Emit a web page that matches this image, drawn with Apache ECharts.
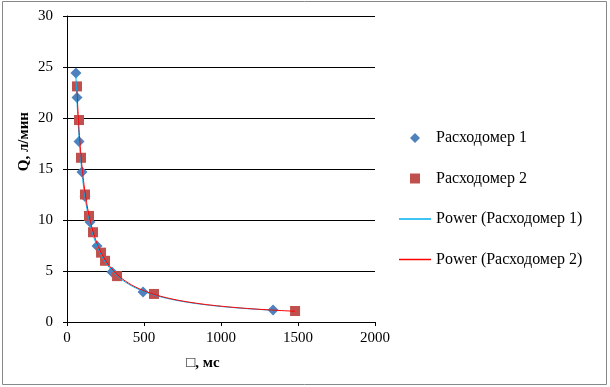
<!DOCTYPE html>
<html><head><meta charset="utf-8">
<script src="https://cdn.jsdelivr.net/npm/echarts@6/dist/echarts.min.js"></script>
<style>html,body{margin:0;padding:0;background:#fff}#c{width:610px;height:387px}</style>
</head><body><div id="c"></div>
<script>
// Data
const flow1X = [58, 65, 78, 97, 117, 149, 195, 292, 494, 1338];
const flow1Y = [24.4, 22.0, 17.7, 14.7, 12.3, 9.8, 7.45, 4.9, 2.95, 1.18];
const flow2X = [65, 78, 91, 117, 143, 169, 221, 247, 325, 565, 1481];
const flow2Y = [23.1, 19.8, 16.1, 12.5, 10.4, 8.8, 6.8, 6.0, 4.5, 2.75, 1.08];
const seriesNames = ['Расходомер 1', 'Расходомер 2', 'Power (Расходомер 1)', 'Power (Расходомер 2)'];
const xTicks = [0, 500, 1000, 1500, 2000];
const yTicks = [0, 5, 10, 15, 20, 25, 30];

// Power trendline (least squares in log-log space, as the spreadsheet does)
function powerFit(xs, ys) {
  const n = xs.length;
  let sx = 0, sy = 0, sxx = 0, sxy = 0;
  for (let i = 0; i < n; i++) {
    const lx = Math.log(xs[i]), ly = Math.log(ys[i]);
    sx += lx; sy += ly; sxx += lx * lx; sxy += lx * ly;
  }
  const b = (n * sxy - sx * sy) / (n * sxx - sx * sx);
  const a = Math.exp((sy - b * sx) / n);
  const xmin = Math.min(...xs), xmax = Math.max(...xs);
  const pts = [];
  const steps = 200;
  for (let i = 0; i <= steps; i++) {
    const x = Math.exp(Math.log(xmin) + (Math.log(xmax) - Math.log(xmin)) * i / steps);
    pts.push([x, a * Math.pow(x, b)]);
  }
  return pts;
}
const zip = (xs, ys) => xs.map((x, i) => [x, ys[i]]);

const font = 'Liberation Serif';
const lineIcon = 'path://M0,0 L32,0 L32,1.5 L0,1.5 Z';
const chart = echarts.init(document.getElementById('c'), null, {renderer: 'canvas'});
chart.setOption({
  animation: false,
  backgroundColor: '#fff',
  grid: {left: 67, right: 235, top: 16, bottom: 65, containLabel: false},
  xAxis: {
    type: 'value', min: xTicks[0], max: xTicks[xTicks.length - 1], interval: 500,
    axisLine: {show: true, lineStyle: {color: '#000', width: 1}},
    axisTick: {show: true, length: 4, lineStyle: {color: '#000'}},
    splitLine: {show: false},
    axisLabel: {color: '#000', fontFamily: font, fontSize: 15, margin: 9, formatter: v => String(v)}
  },
  yAxis: {
    type: 'value', min: yTicks[0], max: yTicks[yTicks.length - 1], interval: 5,
    axisLine: {show: true, lineStyle: {color: '#000', width: 1}},
    axisTick: {show: true, length: 4, lineStyle: {color: '#000'}},
    splitLine: {show: true, lineStyle: {color: '#000', width: 1}},
    axisLabel: {color: '#000', fontFamily: font, fontSize: 15, margin: 14, formatter: v => String(v)}
  },
  legend: {
    orient: 'vertical', left: 394, top: 125, itemWidth: 32, itemHeight: 10, itemGap: 24.5,
    textStyle: {color: '#000', fontFamily: font, fontSize: 16},
    data: [
      {name: seriesNames[0], icon: 'path://M5,0 L10,5 L5,10 L0,5 Z'},
      {name: seriesNames[1], icon: 'path://M0,0 L10,0 L10,10 L0,10 Z'},
      {name: seriesNames[2], icon: lineIcon},
      {name: seriesNames[3], icon: lineIcon}
    ]
  },
  graphic: [
    {type: 'rect', shape: {x: 2.5, y: 1.5, width: 604, height: 383}, style: {fill: 'none', stroke: '#888', lineWidth: 1}, silent: true, z: 100},
    {type: 'text', left: 17, top: 112, rotation: Math.PI / 2, style: {text: 'Q, л/мин', font: 'bold 15px "Liberation Serif"', fill: '#000'}},
    {type: 'text', x: 203, y: 363, style: {text: '□, мс', font: 'bold 15px "Liberation Serif"', fill: '#000', align: 'center', verticalAlign: 'middle'}}
  ],
  series: [
    {name: seriesNames[0], type: 'scatter', symbol: 'diamond', symbolSize: [11, 11], itemStyle: {color: '#4F81BD', opacity: 1}, data: zip(flow1X, flow1Y), z: 2},
    {name: seriesNames[1], type: 'scatter', symbol: 'rect', symbolSize: [10, 10], itemStyle: {color: '#C0504D', opacity: 1}, data: zip(flow2X, flow2Y), z: 2},
    {name: seriesNames[2], type: 'line', showSymbol: false, symbol: 'none', lineStyle: {color: '#00B0F0', width: 1}, itemStyle: {color: '#00B0F0'}, data: powerFit(flow1X, flow1Y), z: 3},
    {name: seriesNames[3], type: 'line', showSymbol: false, symbol: 'none', lineStyle: {color: '#FF0000', width: 1}, itemStyle: {color: '#FF0000'}, data: powerFit(flow2X, flow2Y), z: 3}
  ]
});
</script></body></html>
